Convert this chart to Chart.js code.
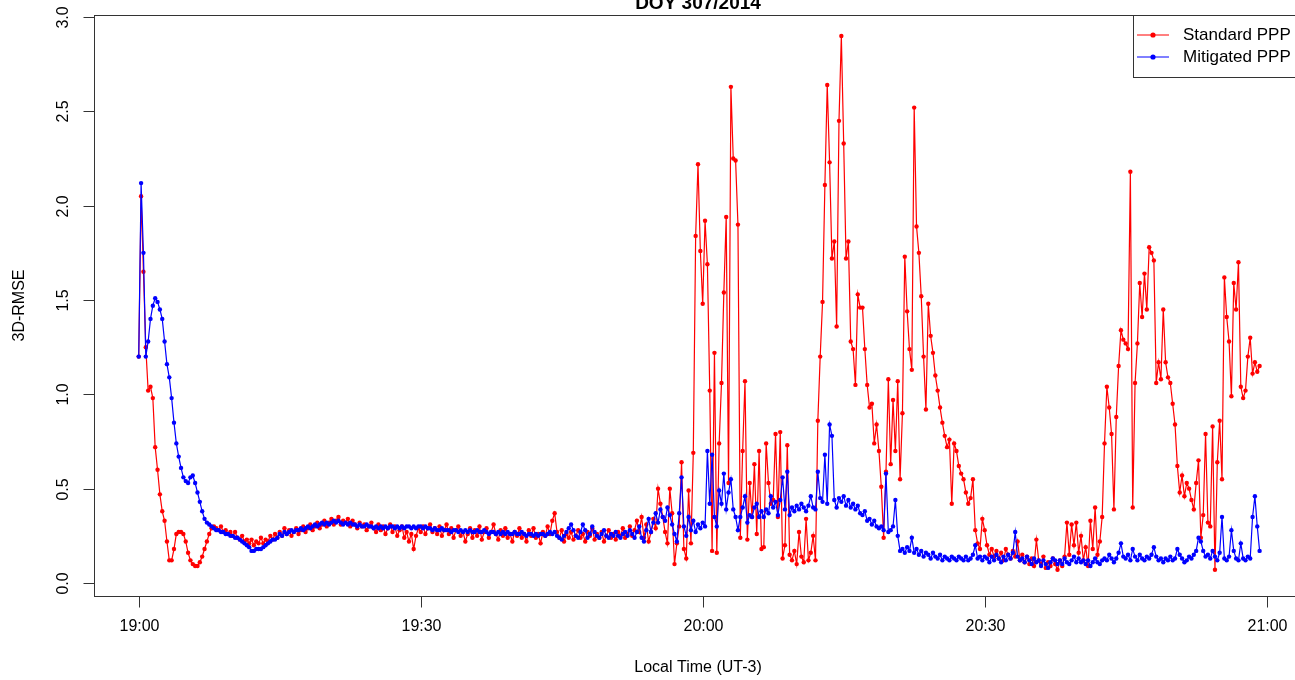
<!DOCTYPE html>
<html>
<head>
<meta charset="utf-8">
<title>DOY 307/2014</title>
<script src="https://cdn.jsdelivr.net/npm/chart.js@4.4.1/dist/chart.umd.min.js"></script>
<style>
  html, body { margin: 0; padding: 0; background: #fff; overflow: hidden; }
  #wrap { width: 1310px; height: 680px; }
</style>
</head>
<body>
<div id="wrap"><canvas id="rmseChart" width="1310" height="680"></canvas></div>
<script>
// epochs every 15 s, counted in minutes from 19:00 local time
const EPOCH_STEP = 0.25;

// 3D-RMSE (m), one row per minute
const standardPPP = [
  1.20, 2.05, 1.65, 1.25,  1.02, 1.04, 0.98, 0.72,  0.60, 0.47, 0.38, 0.33,  0.22, 0.12, 0.12, 0.18,
  0.26, 0.27, 0.27, 0.26,  0.22, 0.16, 0.12, 0.10,  0.09, 0.09, 0.11, 0.14,  0.18, 0.22, 0.26, 0.29,
  0.30, 0.29, 0.28, 0.30,  0.27, 0.28, 0.26, 0.27,  0.25, 0.27, 0.24, 0.23,  0.25, 0.22, 0.23, 0.21,
  0.23, 0.20, 0.22, 0.21,  0.24, 0.21, 0.23, 0.22,  0.25, 0.23, 0.26, 0.24,  0.27, 0.25, 0.29, 0.26,
  0.28, 0.25, 0.27, 0.29,  0.26, 0.28, 0.30, 0.27,  0.29, 0.31, 0.28, 0.30,  0.32, 0.29, 0.31, 0.33,
  0.30, 0.32, 0.34, 0.31,  0.33, 0.35, 0.31, 0.33,  0.32, 0.34, 0.30, 0.33,  0.31, 0.29, 0.32, 0.30,
  0.31, 0.28, 0.30, 0.32,  0.29, 0.27, 0.31, 0.28,  0.30, 0.26, 0.29, 0.31,  0.27, 0.30, 0.25, 0.28,
  0.30, 0.24, 0.27, 0.22,  0.26, 0.18, 0.25, 0.29,  0.27, 0.30, 0.26, 0.29,  0.31, 0.27, 0.29, 0.26,
  0.30, 0.25, 0.28, 0.31,  0.26, 0.29, 0.24, 0.28,  0.30, 0.25, 0.27, 0.22,  0.26, 0.29, 0.24, 0.28,
  0.25, 0.30, 0.23, 0.27,  0.29, 0.24, 0.27, 0.31,  0.26, 0.23, 0.28, 0.25,  0.29, 0.24, 0.26, 0.22,
  0.27, 0.25, 0.29, 0.24,  0.26, 0.22, 0.28, 0.25,  0.29, 0.24, 0.26, 0.21,  0.27, 0.25, 0.30, 0.26,
  0.33, 0.37, 0.27, 0.24,  0.28, 0.22, 0.26, 0.24,  0.27, 0.23, 0.25, 0.28,  0.24, 0.26, 0.22, 0.27,
  0.25, 0.29, 0.23, 0.26,  0.24, 0.27, 0.22, 0.25,  0.28, 0.24, 0.26, 0.23,  0.27, 0.25, 0.29, 0.24,
  0.26, 0.30, 0.25, 0.28,  0.33, 0.27, 0.35, 0.24,  0.31, 0.22, 0.27, 0.34,  0.29, 0.50, 0.42, 0.35,
  0.27, 0.21, 0.50, 0.37,  0.10, 0.21, 0.30, 0.64,  0.18, 0.13, 0.49, 0.21,  0.69, 1.84, 2.22, 1.76,
  1.48, 1.92, 1.69, 1.02,  0.17, 1.22, 0.16, 0.74,  1.06, 1.54, 1.94, 0.53,  2.63, 2.25, 2.24, 1.90,
  0.24, 0.70, 1.07, 0.23,  0.53, 0.35, 0.63, 0.26,  0.70, 0.18, 0.19, 0.74,  0.53, 0.42, 0.44, 0.79,
  0.35, 0.80, 0.13, 0.20,  0.73, 0.15, 0.12, 0.17,  0.10, 0.27, 0.14, 0.11,  0.34, 0.12, 0.16, 0.25,
  0.12, 0.86, 1.20, 1.49,  2.11, 2.64, 2.23, 1.72,  1.81, 1.36, 2.45, 2.90,  2.33, 1.72, 1.81, 1.28,
  1.24, 1.05, 1.53, 1.46,  1.46, 1.24, 1.05, 0.93,  0.95, 0.74, 0.84, 0.70,  0.51, 0.24, 0.59, 1.08,
  0.63, 0.97, 0.70, 1.07,  0.55, 0.90, 1.73, 1.44,  1.24, 1.13, 2.52, 1.89,  1.75, 1.52, 1.20, 0.92,
  1.48, 1.31, 1.22, 1.10,  1.02, 0.93, 0.85, 0.78,  0.72, 0.76, 0.42, 0.74,  0.70, 0.62, 0.58, 0.55,
  0.48, 0.42, 0.45, 0.55,  0.28, 0.21, 0.18, 0.34,  0.28, 0.20, 0.15, 0.18,  0.14, 0.17, 0.13, 0.16,
  0.12, 0.18, 0.15, 0.13,  0.17, 0.14, 0.22, 0.12,  0.15, 0.11, 0.14, 0.10,  0.13, 0.09, 0.23, 0.12,
  0.10, 0.14, 0.08, 0.11,  0.09, 0.13, 0.10, 0.07,  0.12, 0.09, 0.14, 0.32,  0.15, 0.31, 0.20, 0.32,
  0.16, 0.25, 0.12, 0.19,  0.09, 0.33, 0.18, 0.40,  0.15, 0.22, 0.35, 0.74,  1.04, 0.93, 0.79, 0.39,
  0.88, 1.15, 1.34, 1.29,  1.27, 1.24, 2.18, 0.40,  1.06, 1.27, 1.59, 1.41,  1.64, 1.45, 1.78, 1.75,
  1.71, 1.06, 1.17, 1.08,  1.45, 1.17, 1.09, 1.06,  0.95, 0.84, 0.62, 0.48,  0.57, 0.46, 0.53, 0.50,
  0.44, 0.39, 0.53, 0.65,  0.24, 0.36, 0.79, 0.32,  0.30, 0.83, 0.07, 0.64,  0.86, 0.55, 1.62, 1.41,
  1.28, 0.99, 1.59, 1.45,  1.70, 1.04, 0.98, 1.02,  1.20, 1.30, 1.11, 1.17,  1.12, 1.15
];

const mitigatedPPP = [
  1.20, 2.12, 1.75, 1.20,  1.28, 1.40, 1.47, 1.51,  1.49, 1.45, 1.40, 1.28,  1.16, 1.09, 0.98, 0.85,
  0.74, 0.67, 0.61, 0.56,  0.54, 0.53, 0.56, 0.57,  0.53, 0.48, 0.43, 0.38,  0.34, 0.32, 0.31, 0.30,
  0.29, 0.28, 0.28, 0.27,  0.27, 0.26, 0.26, 0.25,  0.25, 0.24, 0.24, 0.23,  0.22, 0.21, 0.20, 0.19,
  0.17, 0.17, 0.18, 0.18,  0.18, 0.19, 0.20, 0.21,  0.22, 0.23, 0.23, 0.24,  0.26, 0.25, 0.27, 0.26,
  0.27, 0.28, 0.27, 0.28,  0.28, 0.29, 0.28, 0.29,  0.30, 0.29, 0.30, 0.31,  0.30, 0.31, 0.32, 0.31,
  0.32, 0.31, 0.32, 0.33,  0.32, 0.33, 0.32, 0.31,  0.32, 0.31, 0.32, 0.31,  0.31, 0.30, 0.31, 0.30,
  0.30, 0.31, 0.30, 0.30,  0.29, 0.30, 0.29, 0.30,  0.29, 0.30, 0.29, 0.30,  0.30, 0.29, 0.30, 0.29,
  0.30, 0.29, 0.30, 0.30,  0.29, 0.30, 0.29, 0.30,  0.30, 0.29, 0.30, 0.29,  0.29, 0.28, 0.29, 0.28,
  0.28, 0.29, 0.28, 0.28,  0.28, 0.27, 0.28, 0.28,  0.27, 0.28, 0.27, 0.28,  0.27, 0.28, 0.27, 0.27,
  0.28, 0.27, 0.27, 0.28,  0.27, 0.26, 0.27, 0.27,  0.26, 0.27, 0.26, 0.27,  0.26, 0.27, 0.26, 0.26,
  0.27, 0.26, 0.26, 0.27,  0.26, 0.25, 0.26, 0.26,  0.25, 0.26, 0.25, 0.26,  0.26, 0.25, 0.26, 0.27,
  0.26, 0.27, 0.25, 0.24,  0.23, 0.25, 0.27, 0.29,  0.31, 0.28, 0.25, 0.24,  0.27, 0.31, 0.28, 0.24,
  0.26, 0.30, 0.27, 0.25,  0.24, 0.26, 0.28, 0.25,  0.24, 0.26, 0.25, 0.27,  0.25, 0.24, 0.26, 0.27,
  0.25, 0.28, 0.26, 0.24,  0.27, 0.30, 0.24, 0.22,  0.28, 0.34, 0.27, 0.32,  0.37, 0.32, 0.39, 0.35,
  0.33, 0.40, 0.36, 0.31,  0.26, 0.22, 0.37, 0.56,  0.30, 0.25, 0.35, 0.28,  0.33, 0.27, 0.31, 0.29,
  0.32, 0.30, 0.70, 0.42,  0.68, 0.35, 0.30, 0.49,  0.42, 0.58, 0.39, 0.48,  0.55, 0.39, 0.35, 0.28,
  0.35, 0.40, 0.46, 0.32,  0.36, 0.35, 0.40, 0.42,  0.35, 0.38, 0.35, 0.39,  0.37, 0.46, 0.40, 0.43,
  0.36, 0.44, 0.56, 0.39,  0.59, 0.36, 0.40, 0.38,  0.41, 0.39, 0.42, 0.40,  0.38, 0.41, 0.46, 0.40,
  0.39, 0.59, 0.45, 0.43,  0.68, 0.42, 0.84, 0.78,  0.44, 0.40, 0.45, 0.43,  0.46, 0.41, 0.44, 0.40,
  0.42, 0.39, 0.41, 0.37,  0.36, 0.38, 0.33, 0.34,  0.31, 0.33, 0.30, 0.29,  0.30, 0.28, 0.58, 0.27,
  0.28, 0.30, 0.44, 0.25,  0.17, 0.18, 0.16, 0.19,  0.17, 0.24, 0.16, 0.18,  0.15, 0.17, 0.14, 0.16,
  0.15, 0.13, 0.16, 0.14,  0.13, 0.15, 0.12, 0.14,  0.13, 0.12, 0.14, 0.13,  0.12, 0.14, 0.13, 0.12,
  0.14, 0.12, 0.13, 0.15,  0.20, 0.13, 0.14, 0.12,  0.14, 0.13, 0.11, 0.14,  0.12, 0.15, 0.13, 0.11,
  0.14, 0.12, 0.15, 0.13,  0.16, 0.27, 0.14, 0.12,  0.13, 0.11, 0.14, 0.12,  0.10, 0.13, 0.11, 0.12,
  0.09, 0.12, 0.10, 0.08,  0.11, 0.13, 0.12, 0.10,  0.12, 0.10, 0.13, 0.11,  0.10, 0.12, 0.14, 0.11,
  0.13, 0.11, 0.12, 0.10,  0.12, 0.09, 0.11, 0.13,  0.11, 0.10, 0.12, 0.13,  0.12, 0.15, 0.13, 0.11,
  0.13, 0.16, 0.21, 0.14,  0.13, 0.15, 0.12, 0.18,  0.14, 0.12, 0.15, 0.13,  0.12, 0.14, 0.13, 0.15,
  0.19, 0.14, 0.12, 0.13,  0.11, 0.13, 0.12, 0.14,  0.12, 0.13, 0.18, 0.15,  0.13, 0.11, 0.12, 0.14,
  0.13, 0.15, 0.17, 0.24,  0.22, 0.17, 0.14, 0.15,  0.13, 0.17, 0.14, 0.12,  0.16, 0.35, 0.13, 0.12,
  0.14, 0.28, 0.17, 0.13,  0.12, 0.21, 0.13, 0.12,  0.14, 0.13, 0.35, 0.46,  0.30, 0.17
];

const xTickValues = [0, 30, 60, 90, 120];
const xTickLabels = ['19:00', '19:30', '20:00', '20:30', '21:00'];
const yTickValues = [0, 0.5, 1, 1.5, 2, 2.5, 3];
const yTickLabels = ['0.0', '0.5', '1.0', '1.5', '2.0', '2.5', '3.0'];
const seriesNames = ['Standard PPP', 'Mitigated PPP'];
const seriesColors = ['#ff0000', '#0000ff'];

const toPoints = vals => vals.map((v, i) => ({ x: i * EPOCH_STEP, y: v }));

const FONT = '"Liberation Sans", Arial, Helvetica, sans-serif';

// base-graphics look: boxed plot, outward ticks, rotated y labels
const rFrame = {
    id: 'rFrame',
    afterDraw(chart) {
        const { ctx, chartArea: a, scales: { x, y } } = chart;
        ctx.save();
        ctx.strokeStyle = '#333';
        ctx.lineWidth = 1;
        ctx.strokeRect(Math.round(a.left) + 0.5, Math.round(a.top) + 0.5,
            Math.round(a.right - a.left), Math.round(a.bottom - a.top));

        ctx.fillStyle = '#000';
        ctx.font = '16px ' + FONT;
        ctx.textAlign = 'center';
        ctx.textBaseline = 'middle';

        const bottom = Math.round(a.bottom) + 0.5;
        xTickValues.forEach((v, i) => {
            const px = Math.round(x.getPixelForValue(v)) + 0.5;
            ctx.beginPath();
            ctx.moveTo(px, bottom);
            ctx.lineTo(px, bottom + 11);
            ctx.stroke();
            ctx.fillText(xTickLabels[i], px, a.bottom + 31);
        });

        const left = Math.round(a.left) + 0.5;
        yTickValues.forEach((v, i) => {
            const py = Math.round(y.getPixelForValue(v)) + 0.5;
            ctx.beginPath();
            ctx.moveTo(left - 11, py);
            ctx.lineTo(left, py);
            ctx.stroke();
            ctx.save();
            ctx.translate(a.left - 30, py);
            ctx.rotate(-Math.PI / 2);
            ctx.fillText(yTickLabels[i], 0, 0);
            ctx.restore();
        });

        const midX = (a.left + a.right) / 2;
        ctx.fillText('Local Time (UT-3)', midX, 668);
        ctx.save();
        ctx.translate(20, (a.top + a.bottom) / 2);
        ctx.rotate(-Math.PI / 2);
        ctx.fillText('3D-RMSE', 0, 0);
        ctx.restore();

        // title sits mostly above the window
        ctx.font = 'bold 19px ' + FONT;
        ctx.textBaseline = 'alphabetic';
        ctx.fillText('DOY 307/2014', midX, 9);

        // legend, top right
        const lx = 1133;
        ctx.fillStyle = '#fff';
        ctx.fillRect(lx, a.top, a.right - lx, 62);
        ctx.strokeStyle = '#333';
        ctx.strokeRect(lx + 0.5, Math.round(a.top) + 0.5, Math.round(a.right - lx), 62);
        ctx.font = '17px ' + FONT;
        ctx.textAlign = 'left';
        ctx.textBaseline = 'middle';
        seriesNames.forEach((name, i) => {
            const ly = a.top + 20 + i * 22;
            ctx.strokeStyle = seriesColors[i];
            ctx.beginPath();
            ctx.moveTo(lx + 4, ly);
            ctx.lineTo(lx + 36, ly);
            ctx.stroke();
            ctx.fillStyle = seriesColors[i];
            ctx.beginPath();
            ctx.arc(lx + 20, ly, 2.6, 0, Math.PI * 2);
            ctx.fill();
            ctx.fillStyle = '#000';
            ctx.fillText(name, lx + 50, ly);
        });
        ctx.restore();
    }
};

const ctx = document.getElementById('rmseChart').getContext('2d');

new Chart(ctx, {
    type: 'line',
    data: {
        datasets: [
            {
                label: seriesNames[0],
                data: toPoints(standardPPP),
                borderColor: seriesColors[0],
                backgroundColor: seriesColors[0],
                borderWidth: 1.2,
                pointRadius: 2.2,
                pointBorderWidth: 0,
                tension: 0,
                order: 2
            },
            {
                label: seriesNames[1],
                data: toPoints(mitigatedPPP),
                borderColor: seriesColors[1],
                backgroundColor: seriesColors[1],
                borderWidth: 1.2,
                pointRadius: 2.2,
                pointBorderWidth: 0,
                tension: 0,
                order: 1
            }
        ]
    },
    options: {
        responsive: false,
        animation: false,
        devicePixelRatio: 1,
        layout: {
            padding: { left: 94, right: 8, top: 15, bottom: 84 }
        },
        scales: {
            x: { type: 'linear', min: -4.76, max: 123.76, display: false },
            y: { type: 'linear', min: -0.069, max: 3.011, display: false }
        },
        plugins: {
            legend: { display: false },
            tooltip: { enabled: false }
        }
    },
    plugins: [rFrame]
});
</script>
</body>
</html>
